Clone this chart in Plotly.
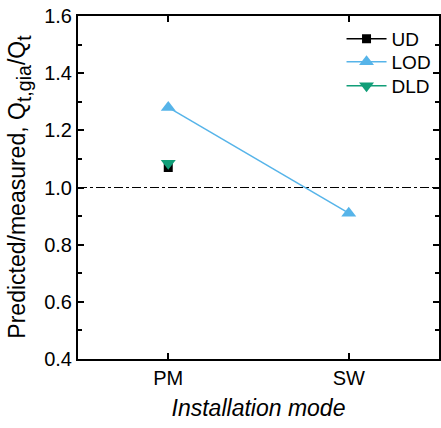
import plotly.graph_objects as go

categories = ["PM", "SW"]
ud_x = ["PM"]
ud_y = [1.07]
lod_x = ["PM", "SW"]
lod_y = [1.28, 0.91]
dld_x = ["PM"]
dld_y = [1.085]

FONT = "Liberation Sans, Arial, sans-serif"

fig = go.Figure()
fig.add_trace(go.Scatter(x=ud_x, y=ud_y, name="UD", mode="lines+markers", legend="legend",
                         line=dict(color="black", width=1.5),
                         marker=dict(symbol="square", size=9, color="black")))
fig.add_trace(go.Scatter(x=lod_x, y=lod_y, name="LOD", mode="lines+markers", legend="legend2",
                         line=dict(color="#56B4E9", width=1.5),
                         marker=dict(symbol="triangle-up", size=13, color="#56B4E9")))
fig.add_trace(go.Scatter(x=dld_x, y=dld_y, name="DLD", mode="lines+markers", legend="legend3",
                         line=dict(color="#119E78", width=1.5),
                         marker=dict(symbol="triangle-down", size=13, color="#119E78")))

fig.add_shape(type="line", xref="paper", yref="y", x0=0, x1=1, y0=1.0, y1=1.0,
              line=dict(color="black", width=1.2, dash="dashdot"), layer="below")

axis_common = dict(showline=True, linecolor="black", linewidth=2, mirror="ticks",
                   ticks="inside", tickcolor="black", tickwidth=1.5, ticklen=6,
                   showgrid=False, zeroline=False,
                   tickfont=dict(family=FONT, size=20, color="black"))

fig.update_xaxes(type="category", categoryorder="array", categoryarray=categories,
                 range=[-0.5, 1.5],
                 title=dict(text="<i>Installation mode</i>", font=dict(family=FONT, size=23, color="black"),
                            standoff=12),
                 **axis_common)
fig.update_yaxes(range=[0.4, 1.6], tickmode="array",
                 tickvals=[0.4, 0.6, 0.8, 1.0, 1.2, 1.4, 1.6],
                 ticktext=["0.4", "0.6", "0.8", "1.0", "1.2", "1.4", "1.6"],
                 minor=dict(ticks="inside", tickvals=[0.5, 0.7, 0.9, 1.1, 1.3, 1.5],
                            ticklen=4, tickcolor="black", tickwidth=1.5),
                 **axis_common)

ytitle = ('Predicted/measured, Q<span style="font-size:28px"><sub>t,gia</sub></span>'
          '/Q<span style="font-size:28px"><sub>t</sub></span>')
fig.add_annotation(text=ytitle, xref="paper", yref="paper", x=-0.163, y=0.503,
                   xanchor="center", yanchor="middle", textangle=-90, showarrow=False,
                   font=dict(family=FONT, size=23, color="black"))

leg = dict(xanchor="left", yanchor="middle", x=0.73,
           bgcolor="rgba(0,0,0,0)", borderwidth=0,
           font=dict(family=FONT, size=19, color="black"), itemwidth=40)

fig.update_layout(
    width=441, height=428,
    margin=dict(l=78, r=0, t=16, b=69),
    paper_bgcolor="white", plot_bgcolor="white",
    font=dict(family=FONT, size=19, color="black"),
    showlegend=True,
    legend=dict(y=0.933, **leg),
    legend2=dict(y=0.866, **leg),
    legend3=dict(y=0.796, **leg),
)

fig.write_html("out.html")
